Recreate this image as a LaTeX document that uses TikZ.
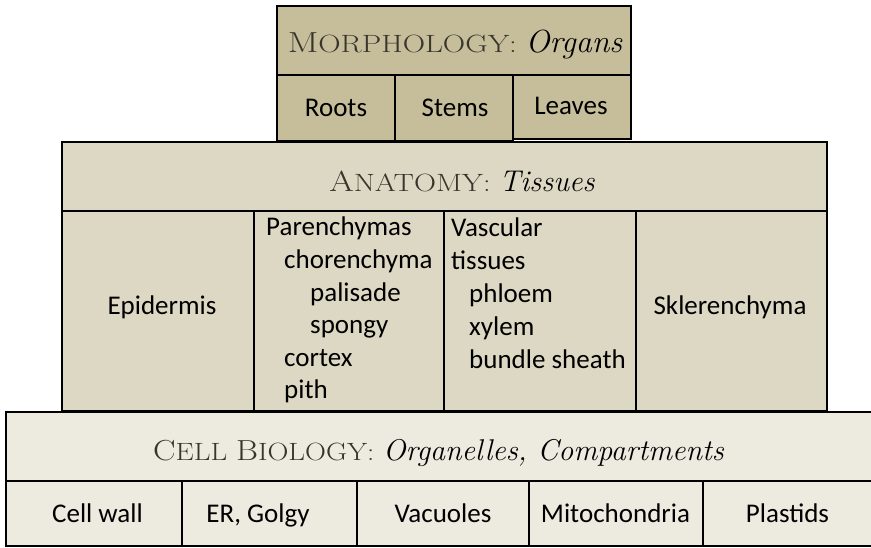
\documentclass[tikz,border=0pt]{standalone}
\usepackage{fontspec}
\usepackage{graphicx}
\newfontfamily\calfont{Carlito}
\definecolor{morphfill}{HTML}{C6BE9A}
\definecolor{anatfill}{HTML}{DDD8C3}
\definecolor{cellfill}{HTML}{EDEADF}
\definecolor{headgray}{HTML}{38352D}
\tikzset{
  box/.style={draw=black, line width=2.8pt, rectangle, inner sep=0pt, outer sep=0pt},
  morphbox/.style={box, fill=morphfill},
  anatbox/.style={box, fill=anatfill},
  cellbox/.style={box, fill=cellfill},
  txt/.style={font=\calfont\fontsize{27}{33}\selectfont, text=black, inner sep=0pt, anchor=base},
  lst/.style={txt, anchor=base west},
  head/.style={font=\fontsize{29}{34}\selectfont, inner sep=0pt, anchor=base},
}
\newcommand{\hd}[3][1.16]{{\color{headgray}\scalebox{#1}[1]{\fontsize{29}{34}\selectfont #2\fontsize{25}{30}\selectfont #3}}}
\newcommand{\hit}[2][30]{{\fontsize{#1}{34}\selectfont\itshape #2}}
\begin{document}
\begin{tikzpicture}[x=1pt,y=-1pt]
\useasboundingbox (0,0) rectangle (871,548);
\clip (0,0) rectangle (871,548);
% ---------- Morphology ----------
\node[morphbox, minimum width=354, minimum height=69] (morph) at (454,40.5) {};
\node[morphbox, minimum width=118, minimum height=66] (roots) at (336,108) {};
\node[morphbox, minimum width=118, minimum height=66] (stems) at (454,108) {};
\node[morphbox, minimum width=118, minimum height=64] (leaves) at (572,107) {};
\node[head] (morphT) at (455,53) {\hd[1.24]{M}{ORPHOLOGY:} \hit[32]{Organs}};
\node[txt] (rootsT) at (336,117) {Roots};
\node[txt] (stemsT) at (455,117) {Stems};
\node[txt] (leavesT) at (571,115) {Leaves};
% ---------- Anatomy ----------
\node[anatbox, minimum width=765, minimum height=69] (anat) at (444.5,176.5) {};
\node[anatbox, minimum width=192, minimum height=200] (epi) at (158,311) {};
\node[anatbox, minimum width=190, minimum height=200] (par) at (349,311) {};
\node[anatbox, minimum width=192, minimum height=200] (vasc) at (540,311) {};
\node[anatbox, minimum width=191, minimum height=200] (skl) at (731.5,311) {};
\node[head] (anatT) at (462,192) {\hd[1.22]{A}{NATOMY:} \hit{Tissues}};
\node[txt] (epiT) at (162,315) {Epidermis};
\node[txt] (sklT) at (730,315) {Sklerenchyma};
\foreach \t/\dx [count=\i] in {Parenchymas/0, chorenchyma/18, palisade/44, spongy/44, cortex/18, pith/18}
  \node[lst] (parT\i) at ({266+\dx},{236+32.6*(\i-1)}) {\t};
\foreach \t/\dx [count=\i] in {Vascular/0, tissues/0, phloem/18, xylem/18, bundle sheath/18}
  \node[lst] (vascT\i) at ({451+\dx},{237+33*(\i-1)}) {\t};
% ---------- Cell biology ----------
\node[cellbox, minimum width=880, minimum height=69] (cell) at (446,446.5) {};
\node[cellbox, minimum width=176, minimum height=65] (wall) at (94,513.5) {};
\node[cellbox, minimum width=175, minimum height=65] (er) at (269.5,513.5) {};
\node[cellbox, minimum width=172, minimum height=65] (vac) at (443,513.5) {};
\node[cellbox, minimum width=174, minimum height=65] (mito) at (616,513.5) {};
\node[cellbox, minimum width=180, minimum height=65] (plast) at (793,513.5) {};
\node[head] (cellT) at (438.5,460) {\hd{C}{ELL}\ \hd{B}{IOLOGY:} \hit{Organelles, Compartments}};
\node[txt] (wallT) at (97.5,522) {Cell wall};
\node[txt] (erT) at (258,522) {ER, Golgy};
\node[txt] (vacT) at (443,522) {Vacuoles};
\node[txt] (mitoT) at (615.5,522) {Mitochondria};
\node[txt] (plastT) at (787.5,522) {Plastids};
\end{tikzpicture}
\end{document}
